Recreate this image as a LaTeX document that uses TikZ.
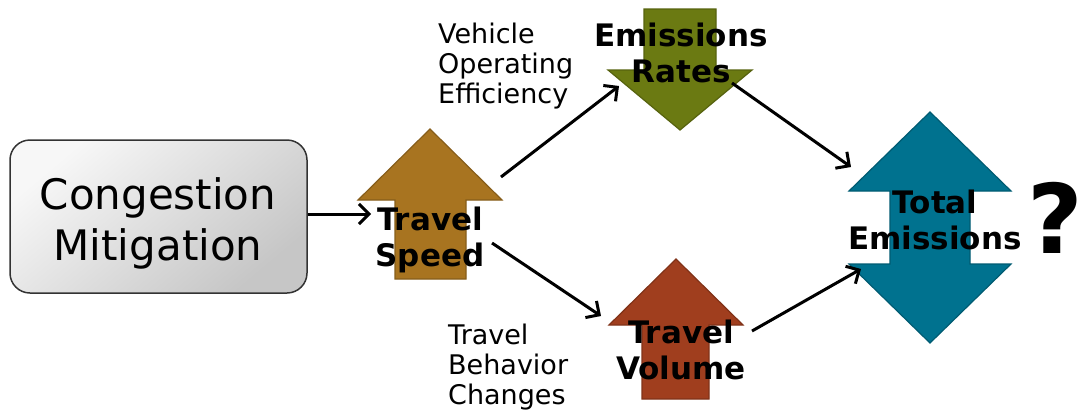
\documentclass[tikz,border=0pt]{standalone}
\usepackage{fontspec}
\setmainfont{DejaVu Sans}
\usetikzlibrary{arrows.meta}

\definecolor{speedcol}{RGB}{168,116,32}
\definecolor{ratecol}{RGB}{107,122,18}
\definecolor{volcol}{RGB}{160,62,30}
\definecolor{totcol}{RGB}{0,114,143}

\tikzset{
  bigarrow/.style={line width=1.2pt, line join=miter},
  effect/.style={font=\fontsize{31}{36}\selectfont\bfseries, align=center, inner sep=0pt},
  note/.style={font=\fontsize{27}{30}\selectfont, align=left, inner sep=0pt, anchor=north west},
  flow/.style={line width=3pt, -{Straight Barb[length=10pt,width=20pt]}},
}

\begin{document}
\begin{tikzpicture}[x=1pt,y=-1pt]
\useasboundingbox (0,0) rectangle (1081,410);

% starting box
\node[draw=black!80, line width=1.5pt, rounded corners=20pt,
      minimum width=297pt, minimum height=153pt,
      top color=gray!6, bottom color=gray!45, shading angle=40] (mitig) at (158.5,216.5) {};
\node[font=\fontsize{42}{51}\selectfont, align=center, inner sep=0pt] (mitigtext) at (158,223)
  {Congestion\\Mitigation};

% the four big arrows
\filldraw[bigarrow, fill=speedcol, draw=speedcol!80!black]
  (430,129) -- (502,200) -- (466,200) -- (466,279) -- (395,279) -- (395,200) -- (358,200) -- cycle;
\filldraw[bigarrow, fill=ratecol, draw=ratecol!80!black]
  (644,9) -- (716,9) -- (716,70) -- (752,70) -- (680,130) -- (608,70) -- (644,70) -- cycle;
\filldraw[bigarrow, fill=volcol, draw=volcol!80!black]
  (676,259) -- (743,325) -- (709,325) -- (709,399) -- (642,399) -- (642,325) -- (609,325) -- cycle;
\filldraw[bigarrow, fill=totcol, draw=totcol!80!black]
  (930,112) -- (1011,191) -- (970,191) -- (970,264) -- (1011,264) -- (930,343)
  -- (849,264) -- (890,264) -- (890,191) -- (849,191) -- cycle;

% labels on the arrows
\node[effect] (speed) at (430,240) {Travel\\Speed};
\node[effect] (rates) at (681,53) {Emissions\\Rates};
\node[effect] (volume) at (681,350) {Travel\\Volume};
\node[effect] (total) at (935,220) {Total\\Emissions};
\node[font=\fontsize{96}{100}\selectfont\bfseries, inner sep=0pt] (qmark) at (1055,218) {?};

% side notes
\node[note] (effic) at (438,23) {Vehicle\\Operating\\Efficiency};
\node[note] (behav) at (448,324) {Travel\\Behavior\\Changes};

% connector ends
\coordinate (speed-in) at (371,214);
\coordinate (speed-up) at (501,177);
\coordinate (rates-in) at (619,86);
\coordinate (speed-down) at (492,243);
\coordinate (volume-in) at (601,316);
\coordinate (rates-out) at (732,83);
\coordinate (total-in1) at (851,167);
\coordinate (volume-out) at (752,331);
\coordinate (total-in2) at (861,269);

\draw[flow] (mitig.east |- speed-in) -- (speed-in);
\draw[flow] (speed-up) -- (rates-in);
\draw[flow] (speed-down) -- (volume-in);
\draw[flow] (rates-out) -- (total-in1);
\draw[flow] (volume-out) -- (total-in2);
\end{tikzpicture}
\end{document}
